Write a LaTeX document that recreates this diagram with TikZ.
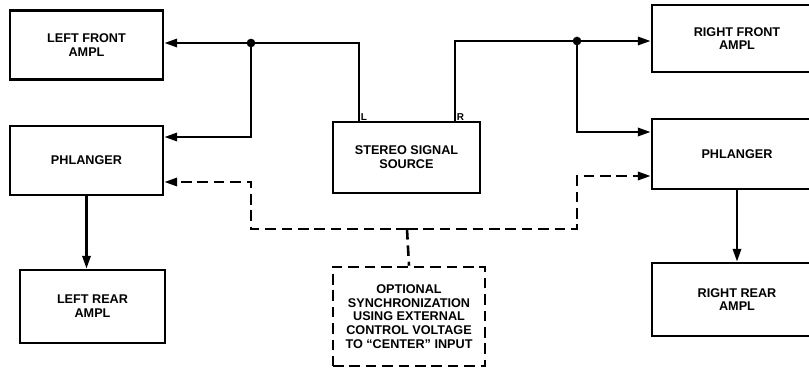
\documentclass[tikz,border=0pt]{standalone}
\usepackage{fontspec}
\newfontfamily\blockfont{Liberation Sans}
\usetikzlibrary{arrows.meta}

\tikzset{
  block/.style={draw, line width=2.2pt, inner sep=0pt, align=center,
    font=\blockfont\bfseries\fontsize{10.8}{11.8}\selectfont},
  optbox/.style={block, dash pattern=on 9pt off 5pt},
  wire/.style={line width=2.2pt},
  sig/.style={wire, -{Triangle[length=11pt,width=7pt]}},
  ctl/.style={sig, dash pattern=on 9pt off 5pt},
  tag/.style={font=\blockfont\bfseries\fontsize{8.5}{9}\selectfont, inner sep=1.5pt},
}

\begin{document}
\begin{tikzpicture}[x=0.03cm, y=-0.03cm]
        \useasboundingbox (0,0) rectangle (809,369);
        \clip (0,0) rectangle (809,369);

        % blocks
        \node[block, minimum width=4.59cm, minimum height=2.07cm] (lfront) at (86.5,45) {LEFT FRONT\\AMPL};
        \node[block, minimum width=4.59cm, minimum height=2.07cm] (lphl) at (86.5,160.5) {PHLANGER};
        \node[block, minimum width=4.35cm, minimum height=2.19cm] (lrear) at (92.5,306.5) {LEFT REAR\\AMPL};
        \node[block, minimum width=4.41cm, minimum height=2.13cm] (src) at (406.5,157.5) {STEREO SIGNAL\\SOURCE};
        \node[block, minimum width=5.1cm, minimum height=2.01cm] (rfront) at (737,38.5) {RIGHT FRONT\\AMPL};
        \node[block, minimum width=5.1cm, minimum height=2.1cm] (rphl) at (737,154) {PHLANGER};
        \node[block, minimum width=5.1cm, minimum height=2.19cm] (rrear) at (737,299.5) {RIGHT REAR\\AMPL};
        \node[optbox, minimum width=4.56cm, minimum height=2.97cm] (opt) at (409,316.5)
            {OPTIONAL\\SYNCHRONIZATION\\USING EXTERNAL\\CONTROL VOLTAGE\\TO “CENTER” INPUT};

        % outputs of the source
        \coordinate (lout) at (359,122);
        \coordinate (rout) at (455,122);
        \node[tag, above right] (ltag) at (lout) {L};
        \node[tag, above right] (rtag) at (rout) {R};

        % junctions and bends
        \coordinate (ldot) at (251,43);
        \coordinate (lbend) at (251,137);
        \coordinate (rdot) at (577,41);
        \coordinate (rbend) at (577,132);
        \coordinate (lsync) at (251,182);
        \coordinate (rsync) at (577,176);
        \coordinate (sbus) at (407,229);

        % left channel
        \draw[wire] (lout) |- (ldot);
        \draw[sig] (ldot) -- (ldot -| lfront.east);
        \draw[sig] (ldot) -- (lbend) -- (lbend -| lphl.east);
        \fill (ldot) circle (0.13cm);
        \draw[sig] (lphl.south) -- (lphl.south |- lrear.north);

        % right channel
        \draw[wire] (rout) |- (rdot);
        \draw[sig] (rdot) -- (rdot -| rfront.west);
        \draw[sig] (rdot) -- (rbend) -- (rbend -| rphl.west);
        \fill (rdot) circle (0.13cm);
        \draw[sig] (rphl.south) -- (rphl.south |- rrear.north);

        % optional sync (dashed)
        \draw[ctl] (sbus) -| (lsync) -- (lsync -| lphl.east);
        \draw[ctl] (sbus) -| (rsync) -- (rsync -| rphl.west);
        \draw[wire, dash pattern=on 9pt off 5pt] (sbus) -- (opt.north);

    \end{tikzpicture}
\end{document}
